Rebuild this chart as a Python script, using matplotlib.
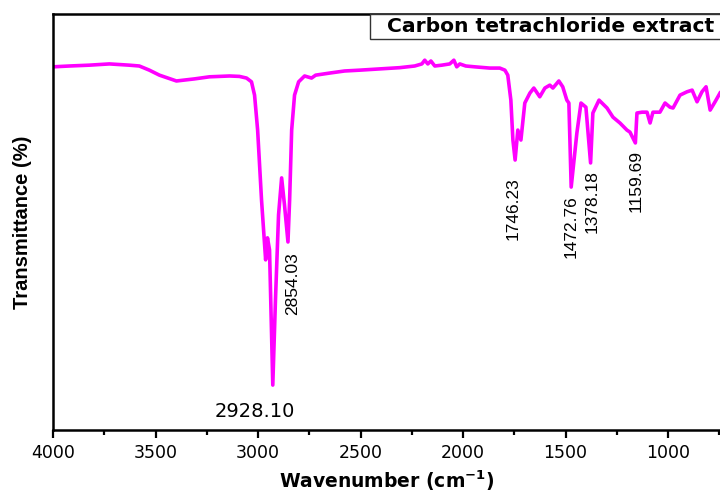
import matplotlib
matplotlib.use("Agg")
import matplotlib.pyplot as plt
from matplotlib.patches import Rectangle

# FTIR spectrum of the carbon tetrachloride extract
wavenumber = [4000, 3920, 3823, 3725, 3628, 3579, 3530, 3481, 3398, 3310,
              3237, 3139, 3091, 3056, 3032, 3017, 3002, 2983, 2963, 2954,
              2944, 2928.10, 2915, 2900, 2885, 2871, 2854.03, 2846, 2836, 2822,
              2802, 2773, 2739, 2719, 2651, 2578, 2504, 2407, 2309, 2236,
              2201, 2187, 2172, 2157, 2138, 2104, 2065, 2045, 2031, 2016,
              1987, 1943, 1870, 1821, 1796, 1782, 1767, 1757, 1746.23, 1733,
              1718, 1699, 1674, 1655, 1626, 1601, 1577, 1562, 1533, 1514,
              1494, 1484, 1472.76, 1445, 1425, 1401, 1378.18, 1367, 1337, 1298,
              1269, 1235, 1201, 1186, 1159.69, 1152, 1127, 1103, 1088, 1074,
              1040, 1015, 991, 976, 942, 908, 883, 859, 835, 815,
              795, 771, 747]
transmittance = [87.3, 87.5, 87.7, 88.0, 87.7, 87.5, 86.5, 85.3, 83.9, 84.4,
                 84.9, 85.1, 85.0, 84.6, 83.7, 80.5, 72.1, 55.3, 40.9, 46.2,
                 43.3, 10.8, 31.3, 51.7, 60.6, 54.1, 45.2, 55.3, 72.1, 80.5,
                 83.7, 85.1, 84.6, 85.3, 85.8, 86.3, 86.5, 86.8, 87.1, 87.5,
                 88.0, 88.9, 88.0, 88.7, 87.5, 87.7, 88.0, 88.9, 87.3, 88.0,
                 87.5, 87.3, 87.0, 87.0, 86.5, 85.3, 79.3, 69.7, 64.9, 72.1,
                 69.7, 78.6, 81.0, 82.2, 80.1, 82.2, 82.9, 82.2, 83.9, 82.5,
                 79.3, 78.6, 58.4, 71.4, 78.6, 77.6, 64.2, 76.2, 79.3, 77.4,
                 75.2, 73.8, 72.1, 71.6, 69.0, 76.2, 76.4, 76.4, 73.8, 76.4,
                 76.4, 78.6, 77.6, 77.4, 80.5, 81.3, 81.7, 78.9, 81.3, 82.5,
                 76.9, 78.9, 81.0]

# labelled absorption bands and label offsets (pixels)
peaks = [2928.10, 2854.03, 1746.23, 1472.76, 1378.18, 1159.69]
peak_offsets = [(-18, -17), (5, -10), (-2, -17), (0, -8), (2, -7), (1, -7)]

plt.rcParams['mathtext.default'] = 'bf'

fig = plt.figure(figsize=(7.2, 4.96), dpi=100)
ax = fig.add_axes([53 / 720, 66 / 496, 667 / 720, 416 / 496])

ax.plot(wavenumber, transmittance, color='#ff00ff', linewidth=2.6,
        solid_joinstyle='round')

ax.set_xlim(4000, 747)
ax.set_ylim(0, 100)

for p, (dx, dy) in zip(peaks, peak_offsets):
    y = transmittance[wavenumber.index(p)]
    label = "{:.2f}".format(p)
    if p == peaks[0]:
        ax.annotate(label, (p, y), xytext=(dx, dy), textcoords='offset pixels',
                    ha='center', va='top', fontsize=14, family='DejaVu Sans')
    else:
        ax.annotate(label, (p, y), xytext=(dx, dy), textcoords='offset pixels',
                    ha='center', va='top', rotation=90, fontsize=12.5,
                    family='Liberation Sans')

# title box in the top right corner
ax.add_patch(Rectangle((0.4753, 0.94), 0.6, 0.06, transform=ax.transAxes,
                       facecolor='white', edgecolor='#333333', linewidth=1.0,
                       clip_on=False, zorder=3))
ax.text(0.5007, 0.97, "Carbon tetrachloride extract", transform=ax.transAxes,
        ha='left', va='center', fontsize=14.6, fontweight='bold', zorder=4)

ax.set_xticks([4000, 3500, 3000, 2500, 2000, 1500, 1000])
ax.set_xticks([3750, 3250, 2750, 2250, 1750, 1250, 750], minor=True)
ax.tick_params(axis='x', which='major', length=6, width=1.6, labelsize=12.5,
               direction='out', pad=4)
ax.tick_params(axis='x', which='minor', length=3.6, width=1.6, direction='out')
ax.set_yticks([])

for side in ['left', 'bottom', 'top']:
    ax.spines[side].set_linewidth(1.8)
ax.spines['right'].set_visible(False)

ax.set_xlabel("Wavenumber (cm$^{-1}$)", fontsize=13.5, fontweight='bold',
              labelpad=5)
ax.set_ylabel("Transmittance (%)", fontsize=14.5, fontweight='bold',
              family='Liberation Sans', labelpad=15)

fig.savefig("out.png", dpi=100)
